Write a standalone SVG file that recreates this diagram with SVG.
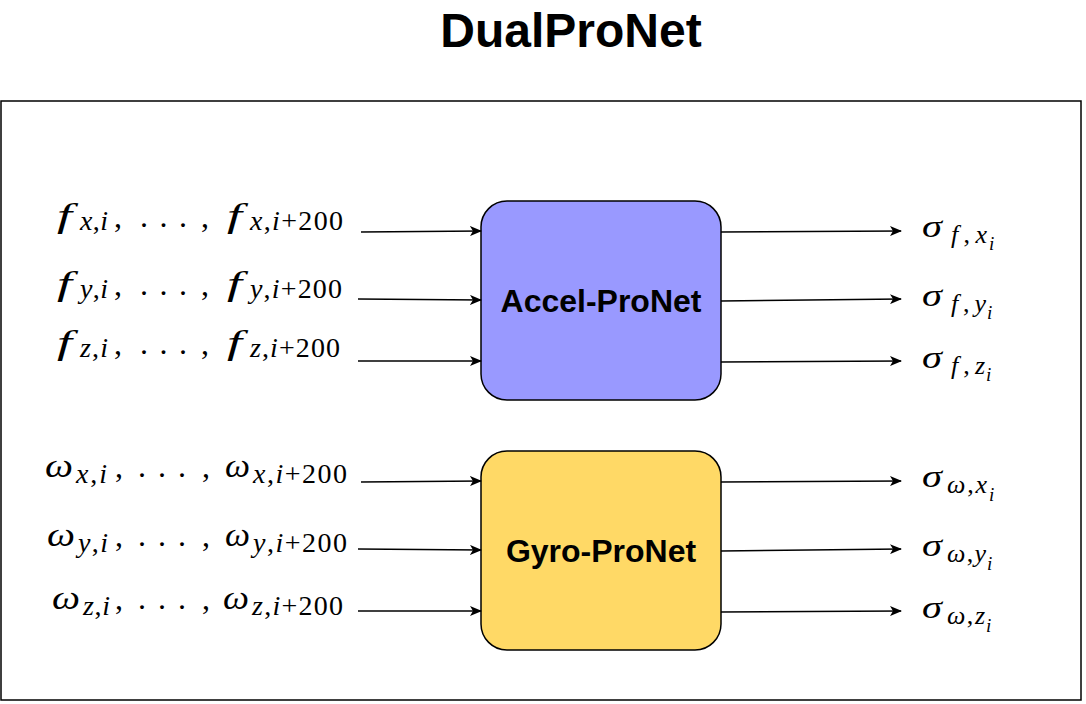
<svg xmlns="http://www.w3.org/2000/svg" width="1086" height="704" viewBox="0 0 1086 704">
<defs>
<marker id="ah" markerWidth="12" markerHeight="10" refX="11" refY="5" orient="auto" markerUnits="userSpaceOnUse">
<path d="M0,0 L12,5 L0,10 L3,5 Z" fill="#000"/>
</marker>
<style>
.frame{fill:#fff;stroke:#000;stroke-width:1.5}
.box{stroke:#000;stroke-width:1.5}
.lbl{font-family:"Liberation Sans",Arial,sans-serif;font-weight:bold;font-size:32px;text-anchor:middle;fill:#000}
.title{font-family:"Liberation Sans",Arial,sans-serif;font-weight:bold;font-size:48px;text-anchor:middle;fill:#000}
.m{font-family:"Liberation Serif","Times New Roman",serif;fill:#000}
.mi{font-style:italic}
.fb{font-size:34px}
.wb{font-size:33px}
.sg{font-size:31px}
.cm{font-size:32px}
.sb{font-size:28px}
.so{font-size:26px}
.ssb{font-size:19px}
.conn path{fill:none;stroke:#000;stroke-width:1.5;marker-end:url(#ah)}
</style>
</defs>
<rect width="1086" height="704" fill="#fff"/>
<text class="title" x="571" y="47">DualProNet</text>
<rect class="frame" x="1" y="101" width="1080" height="599"/>

<g id="accel">
<rect class="box" x="481" y="201" width="240" height="199" rx="26" fill="#9999FF"/>
<text class="lbl" x="601" y="312">Accel-ProNet</text>
</g>
<g id="gyro">
<rect class="box" x="481" y="451" width="240" height="199" rx="26" fill="#FFD966"/>
<text class="lbl" x="601" y="562">Gyro-ProNet</text>
</g>

<g id="input-fx" class="m">
<text class="mi fb" x="57" y="227" textLength="15" lengthAdjust="spacingAndGlyphs">f</text>
<text class="sb" x="80" y="230" textLength="28" lengthAdjust="spacing"><tspan class="mi">x</tspan>,<tspan class="mi">i</tspan></text>
<text class="cm" x="114" y="227">,</text>
<text class="cm" x="140" y="227" textLength="47" lengthAdjust="spacing">. . .</text>
<text class="cm" x="201" y="227">,</text>
<text class="mi fb" x="227" y="227" textLength="15" lengthAdjust="spacingAndGlyphs">f</text>
<text class="sb" x="250" y="230" textLength="93" lengthAdjust="spacing"><tspan class="mi">x</tspan>,<tspan class="mi">i</tspan>+200</text>
</g>
<g id="input-fy" class="m">
<text class="mi fb" x="57" y="295" textLength="15" lengthAdjust="spacingAndGlyphs">f</text>
<text class="sb" x="80" y="298" textLength="28" lengthAdjust="spacing"><tspan class="mi">y</tspan>,<tspan class="mi">i</tspan></text>
<text class="cm" x="114" y="295">,</text>
<text class="cm" x="140" y="295" textLength="47" lengthAdjust="spacing">. . .</text>
<text class="cm" x="201" y="295">,</text>
<text class="mi fb" x="227" y="295" textLength="15" lengthAdjust="spacingAndGlyphs">f</text>
<text class="sb" x="250" y="298" textLength="92" lengthAdjust="spacing"><tspan class="mi">y</tspan>,<tspan class="mi">i</tspan>+200</text>
</g>
<g id="input-fz" class="m">
<text class="mi fb" x="57" y="354" textLength="15" lengthAdjust="spacingAndGlyphs">f</text>
<text class="sb" x="80" y="357" textLength="28" lengthAdjust="spacing"><tspan class="mi">z</tspan>,<tspan class="mi">i</tspan></text>
<text class="cm" x="114" y="354">,</text>
<text class="cm" x="140" y="354" textLength="47" lengthAdjust="spacing">. . .</text>
<text class="cm" x="201" y="354">,</text>
<text class="mi fb" x="227" y="354" textLength="15" lengthAdjust="spacingAndGlyphs">f</text>
<text class="sb" x="250" y="357" textLength="90" lengthAdjust="spacing"><tspan class="mi">z</tspan>,<tspan class="mi">i</tspan>+200</text>
</g>

<g id="input-wx" class="m">
<text class="mi wb" x="45" y="477" textLength="28" lengthAdjust="spacingAndGlyphs">ω</text>
<text class="sb" x="76" y="483" textLength="31" lengthAdjust="spacing"><tspan class="mi">x</tspan>,<tspan class="mi">i</tspan></text>
<text class="cm" x="115" y="477">,</text>
<text class="cm" x="138" y="477" textLength="48" lengthAdjust="spacing">. . .</text>
<text class="cm" x="202" y="477">,</text>
<text class="mi wb" x="225" y="477" textLength="25" lengthAdjust="spacingAndGlyphs">ω</text>
<text class="sb" x="253" y="483" textLength="94" lengthAdjust="spacing"><tspan class="mi">x</tspan>,<tspan class="mi">i</tspan>+200</text>
</g>
<g id="input-wy" class="m">
<text class="mi wb" x="47" y="546" textLength="28" lengthAdjust="spacingAndGlyphs">ω</text>
<text class="sb" x="78" y="552" textLength="30" lengthAdjust="spacing"><tspan class="mi">y</tspan>,<tspan class="mi">i</tspan></text>
<text class="cm" x="115" y="546">,</text>
<text class="cm" x="138" y="546" textLength="48" lengthAdjust="spacing">. . .</text>
<text class="cm" x="202" y="546">,</text>
<text class="mi wb" x="225" y="546" textLength="25" lengthAdjust="spacingAndGlyphs">ω</text>
<text class="sb" x="253" y="552" textLength="94" lengthAdjust="spacing"><tspan class="mi">y</tspan>,<tspan class="mi">i</tspan>+200</text>
</g>
<g id="input-wz" class="m">
<text class="mi wb" x="52" y="609" textLength="28" lengthAdjust="spacingAndGlyphs">ω</text>
<text class="sb" x="83" y="615" textLength="27" lengthAdjust="spacing"><tspan class="mi">z</tspan>,<tspan class="mi">i</tspan></text>
<text class="cm" x="115" y="609">,</text>
<text class="cm" x="138" y="609" textLength="48" lengthAdjust="spacing">. . .</text>
<text class="cm" x="202" y="609">,</text>
<text class="mi wb" x="223" y="609" textLength="26" lengthAdjust="spacingAndGlyphs">ω</text>
<text class="sb" x="252" y="615" textLength="91" lengthAdjust="spacing"><tspan class="mi">z</tspan>,<tspan class="mi">i</tspan>+200</text>
</g>

<g id="output-fx" class="m">
<text class="mi sg" x="922" y="237" textLength="20" lengthAdjust="spacingAndGlyphs">σ</text>
<text class="so" x="951" y="243" textLength="36" lengthAdjust="spacing"><tspan class="mi">f</tspan>,<tspan class="mi">x</tspan></text>
<text class="mi ssb" x="989" y="250">i</text>
</g>
<g id="output-fy" class="m">
<text class="mi sg" x="922" y="306" textLength="20" lengthAdjust="spacingAndGlyphs">σ</text>
<text class="so" x="951" y="312" textLength="35" lengthAdjust="spacing"><tspan class="mi">f</tspan>,<tspan class="mi">y</tspan></text>
<text class="mi ssb" x="987" y="319">i</text>
</g>
<g id="output-fz" class="m">
<text class="mi sg" x="922" y="368" textLength="20" lengthAdjust="spacingAndGlyphs">σ</text>
<text class="so" x="951" y="374" textLength="34" lengthAdjust="spacing"><tspan class="mi">f</tspan>,<tspan class="mi">z</tspan></text>
<text class="mi ssb" x="986" y="381">i</text>
</g>

<g id="output-wx" class="m">
<text class="mi sg" x="922" y="487" textLength="20" lengthAdjust="spacingAndGlyphs">σ</text>
<text class="so" x="947" y="493" textLength="40" lengthAdjust="spacing"><tspan class="mi">ω</tspan>,<tspan class="mi">x</tspan></text>
<text class="mi ssb" x="989" y="501">i</text>
</g>
<g id="output-wy" class="m">
<text class="mi sg" x="922" y="556" textLength="20" lengthAdjust="spacingAndGlyphs">σ</text>
<text class="so" x="947" y="562" textLength="39" lengthAdjust="spacing"><tspan class="mi">ω</tspan>,<tspan class="mi">y</tspan></text>
<text class="mi ssb" x="987" y="570">i</text>
</g>
<g id="output-wz" class="m">
<text class="mi sg" x="922" y="618" textLength="20" lengthAdjust="spacingAndGlyphs">σ</text>
<text class="so" x="947" y="624" textLength="38" lengthAdjust="spacing"><tspan class="mi">ω</tspan>,<tspan class="mi">z</tspan></text>
<text class="mi ssb" x="986" y="632">i</text>
</g>

<g id="connectors" class="conn">
<path d="M361,232 L481,231"/>
<path d="M358,299 L481,300"/>
<path d="M358,361 L481,361"/>
<path d="M721,232 L901,231"/>
<path d="M721,301 L901,299"/>
<path d="M721,362 L901,361"/>
<path d="M361,482 L481,481"/>
<path d="M358,549 L481,550"/>
<path d="M358,611 L481,611"/>
<path d="M721,482 L901,481"/>
<path d="M721,551 L901,549"/>
<path d="M721,612 L901,611"/>
</g>
</svg>
